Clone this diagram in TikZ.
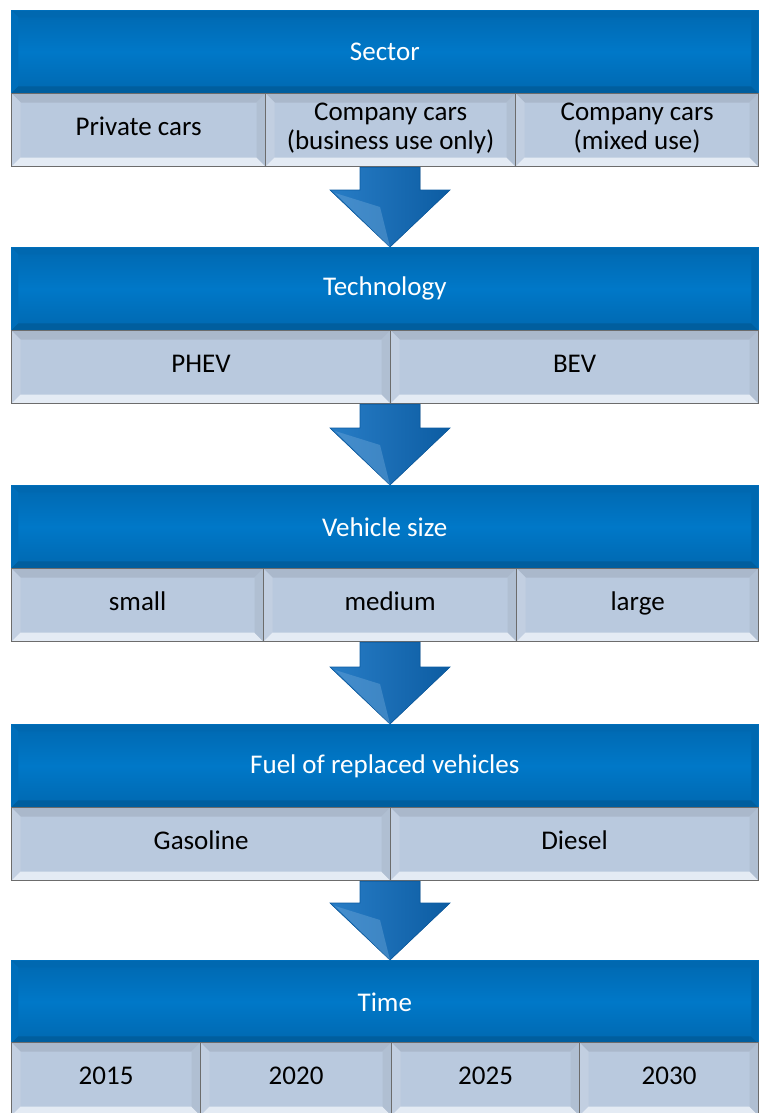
\documentclass[tikz,border=0pt]{standalone}
\usepackage{fontspec}
\setmainfont{Carlito}
\usetikzlibrary{calc}

\definecolor{headblue}{RGB}{0,120,200}
\definecolor{headdark}{RGB}{0,104,176}
\definecolor{headedge}{RGB}{0,110,186}
\definecolor{cellblue}{RGB}{185,201,222}
\definecolor{celltop}{RGB}{170,184,203}
\definecolor{cellleft}{RGB}{194,207,225}
\definecolor{cellright}{RGB}{176,191,210}
\definecolor{cellbottom}{RGB}{228,235,244}
\definecolor{arrowlight}{RGB}{40,125,198}
\definecolor{arrowdark}{RGB}{12,92,162}

% bevel: top, left, bottom, right colours, depth
\newcommand\bevel[5]{%
  \coordinate (bnw) at (path picture bounding box.north west);
  \coordinate (bne) at (path picture bounding box.north east);
  \coordinate (bsw) at (path picture bounding box.south west);
  \coordinate (bse) at (path picture bounding box.south east);
  \fill[#1] (bnw) -- (bne) -- ($(bne)+(-#5,-#5)$) -- ($(bnw)+(#5,-#5)$) -- cycle;
  \fill[#2] (bnw) -- ($(bnw)+(#5,-#5)$) -- ($(bsw)+(#5,#5)$) -- (bsw) -- cycle;
  \fill[#3] (bsw) -- (bse) -- ($(bse)+(-#5,#5)$) -- ($(bsw)+(#5,#5)$) -- cycle;
  \fill[#4] (bne) -- (bse) -- ($(bse)+(-#5,#5)$) -- ($(bne)+(-#5,-#5)$) -- cycle;
}

% block arrow from one row down to the next header
\newcommand\flowarrow[2]{%
  \fill[left color=arrowlight, right color=arrowdark, draw=arrowdark, line width=0.6pt]
    ($(axis |- #1.south)+(-30pt,0)$) -- ($(axis |- #1.south)+(30pt,0)$)
    -- ($(axis |- #2.north)+(30pt,57pt)$) -- ($(axis |- #2.north)+(60pt,57pt)$)
    -- (axis |- #2.north)
    -- ($(axis |- #2.north)+(-60pt,57pt)$) -- ($(axis |- #2.north)+(-30pt,57pt)$) -- cycle;
  \fill[arrowlight!70!white, opacity=0.45]
    ($(axis |- #2.north)+(-55pt,54pt)$) -- ($(axis |- #2.north)+(-10pt,40pt)$)
    -- (axis |- #2.north) -- cycle;
}

\tikzset{
  head/.style={top color=headdark, bottom color=headdark, middle color=headblue,
    draw=headedge, line width=0.6pt, text=white,
    minimum width=747pt, minimum height=83pt, anchor=north west, inner sep=0pt,
    font=\fontsize{27}{30}\selectfont,
    path picture={\bevel{headdark}{headedge}{headdark!90!black}{headdark}{7pt}}},
  cell/.style={fill=cellblue, draw=gray!85!black, line width=1.2pt, text=black,
    minimum height=73pt, anchor=north west, inner sep=0pt, align=center,
    font=\fontsize{27}{29}\selectfont, execute at begin node=\strut,
    path picture={\bevel{celltop}{cellleft}{cellbottom}{cellright}{9pt}}},
}

\begin{document}
\begin{tikzpicture}[x=1pt,y=-1pt]
  \useasboundingbox (0,0) rectangle (758,1113);
  \coordinate (axis) at (390,0);

  % Sector
  \node[head] (sector) at (11,10) {Sector};
  \node[cell, minimum width=254pt] (sec1) at (11,93) {Private cars};
  \node[cell, minimum width=250pt] (sec2) at (265,93) {Company cars\\(business use only)};
  \node[cell, minimum width=243pt] (sec3) at (515,93) {Company cars\\(mixed use)};

  % Technology
  \node[head] (tech) at (11,247) {Technology};
  \node[cell, minimum width=379pt] (tech1) at (11,330) {PHEV};
  \node[cell, minimum width=368pt] (tech2) at (390,330) {BEV};

  % Vehicle size
  \node[head] (size) at (11,485) {Vehicle size};
  \node[cell, minimum width=252pt] (size1) at (11,568) {small};
  \node[cell, minimum width=253pt] (size2) at (263,568) {medium};
  \node[cell, minimum width=242pt] (size3) at (516,568) {large};

  % Fuel
  \node[head] (fuel) at (11,724) {Fuel of replaced vehicles};
  \node[cell, minimum width=379pt] (fuel1) at (11,807) {Gasoline};
  \node[cell, minimum width=368pt] (fuel2) at (390,807) {Diesel};

  % Time
  \node[head] (time) at (11,960) {Time};
  \node[cell, minimum width=189pt] (time1) at (11,1042) {2015};
  \node[cell, minimum width=191pt] (time2) at (200,1042) {2020};
  \node[cell, minimum width=188pt] (time3) at (391,1042) {2025};
  \node[cell, minimum width=179pt] (time4) at (579,1042) {2030};

  % arrows
  \flowarrow{sec2}{tech}
  \flowarrow{tech1}{size}
  \flowarrow{size2}{fuel}
  \flowarrow{fuel1}{time}
\end{tikzpicture}
\end{document}
